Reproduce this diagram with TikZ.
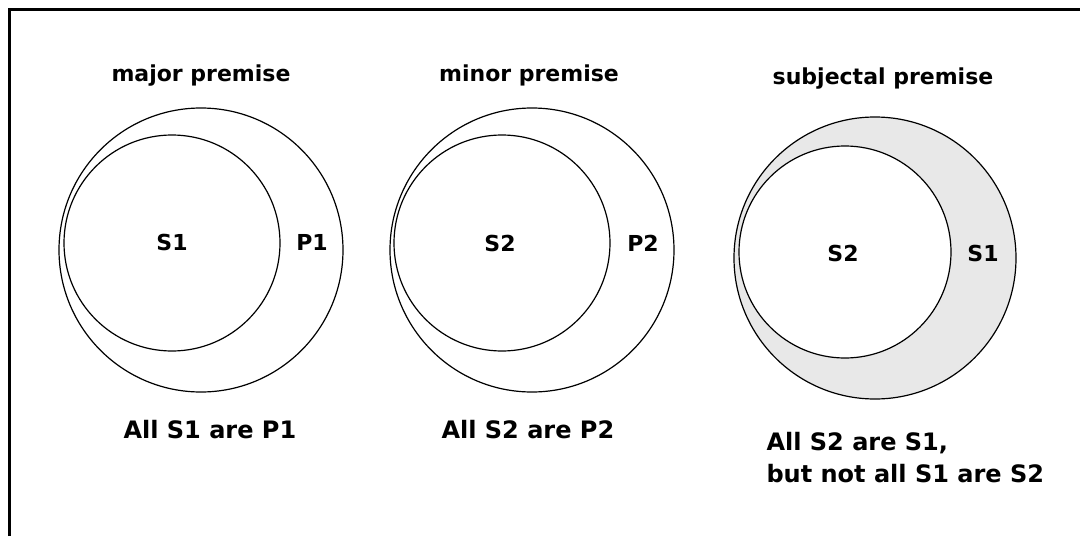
\documentclass[tikz,border=0pt]{standalone}
\usepackage{fontspec}
\setmainfont{DejaVu Sans}
\usetikzlibrary{positioning}

\begin{document}
\begin{tikzpicture}[
    x=1pt, y=-1pt,
    set/.style={circle, draw, line width=1.2pt, inner sep=0pt},
    title/.style={anchor=base, font=\bfseries\fontsize{22}{26}\selectfont},
    lbl/.style={font=\bfseries\fontsize{22}{26}\selectfont},
    claim/.style={anchor=base west, font=\bfseries\fontsize{24}{32}\selectfont},
    crescent/.style={fill=black!9}
]
    \useasboundingbox (0,0) rectangle (1080,536);
    % frame, open to the right and below
    \coordinate (frameL) at (9.5,536);
    \coordinate (frameC) at (9.5,9.5);
    \coordinate (frameR) at (1080,9.5);
    \draw[line width=2.3pt] (frameL) -- (frameC) -- (frameR);

    % major premise
    \node[title] (tmajor) at (201,81) {major premise};
    \node[set, minimum size=284pt] (P1) at (201,250) {};
    \node[set, minimum size=216pt] (S1) at (172,243) {};
    \node[lbl] at (172,242) {S1};
    \node[lbl] at (312,242) {P1};
    \node[claim] (cmajor) at (120,438) {All S1 are P1};

    % minor premise
    \node[title] (tminor) at (529,81) {minor premise};
    \node[set, minimum size=284pt] (P2) at (532,250) {};
    \node[set, minimum size=216pt] (S2) at (502,243) {};
    \node[lbl] at (500,243) {S2};
    \node[lbl] at (643,243) {P2};
    \node[claim] (cminor) at (438,438) {All S2 are P2};

    % subjectal premise
    \node[title] (tsubj) at (883,84) {subjectal premise};
    \node[set, crescent, minimum size=282pt] (S1b) at (875,258) {};
    \node[set, fill=white, minimum size=212pt] (S2b) at (845,252) {};
    \node[lbl] at (843,253) {S2};
    \node[lbl] at (983,253) {S1};
    \node[claim] (csubjA) at (763,450) {All S2 are S1,};
    \node[claim] (csubjB) at (763,482) {but not all S1 are S2};
\end{tikzpicture}
\end{document}
